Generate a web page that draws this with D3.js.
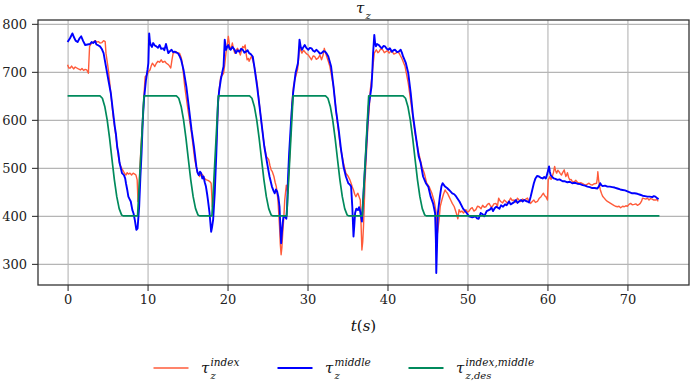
<!DOCTYPE html>
<html>
<head>
<meta charset="utf-8">
<script src="https://cdn.jsdelivr.net/npm/d3@7"></script>
<style>
  html, body { margin: 0; padding: 0; background: #fff; }
  svg { display: block; }
</style>
</head>
<body>
<div id="chart"></div>
<script>
// tick values
const xTicks = [0, 10, 20, 30, 40, 50, 60, 70];
const yTicks = [300, 400, 500, 600, 700, 800];

// tau_z^index  [t, value]
const tauIndex = [[0,715],[0.15,708],[0.33,708],[0.5,712],[0.75,706],[0.95,710],[1.15,708],[1.35,706],[1.6,704],[1.8,707],[2.0,703],[2.2,705],[2.4,704],[2.6,697],[2.75,753],[2.9,757],[3.0,760],[3.2,762],[3.45,765],[3.65,762],[3.85,763],[4.05,760],[4.3,761],[4.5,765],[4.7,763],[4.8,739],[5.1,704],[5.4,656],[5.7,607],[6.05,565],[6.35,524],[6.5,510],[6.65,503],[6.8,498],[7.0,492],[7.15,488],[7.3,485],[7.45,490],[7.6,487],[7.8,489],[8.0,485],[8.2,489],[8.4,487],[8.55,485],[8.7,475],[8.8,430],[8.9,440],[9.05,503],[9.2,550],[9.4,600],[9.55,650],[9.7,690],[9.95,694],[10.1,700],[10.3,704],[10.45,712],[10.6,718],[10.75,715],[10.9,711],[11.1,718],[11.3,722],[11.5,720],[11.7,725],[11.9,720],[12.15,722],[12.35,718],[12.6,715],[12.75,712],[12.9,708],[13.05,725],[13.2,739],[13.4,740],[13.6,742],[13.8,738],[14.0,739],[14.2,730],[14.35,718],[14.65,669],[15.05,621],[15.5,572],[15.9,517],[16.2,492],[16.5,482],[16.7,488],[16.9,485],[17.1,478],[17.35,475],[17.55,474],[17.75,472],[17.95,468],[18.1,419],[18.25,433],[18.4,480],[18.6,544],[18.75,600],[18.9,656],[19.15,690],[19.35,693],[19.5,697],[19.65,715],[19.8,739],[19.95,755],[20.1,774],[20.25,755],[20.35,746],[20.5,752],[20.6,760],[20.75,748],[20.9,739],[21.05,745],[21.25,749],[21.45,742],[21.6,735],[21.75,745],[21.9,753],[22.05,750],[22.2,756],[22.35,735],[22.45,725],[22.6,728],[22.7,722],[22.85,728],[23.0,732],[23.15,725],[23.35,711],[23.7,676],[24.1,614],[24.55,551],[24.85,524],[25.15,517],[25.3,505],[25.45,496],[25.6,492],[25.8,482],[25.95,470],[26.1,461],[26.3,433],[26.5,378],[26.6,340],[26.7,319],[26.8,335],[26.9,364],[27.05,400],[27.15,433],[27.35,464],[27.55,447],[27.65,490],[27.8,531],[28.05,635],[28.25,670],[28.4,683],[28.6,695],[28.75,704],[28.9,730],[29.0,753],[29.15,745],[29.3,739],[29.5,745],[29.65,742],[29.85,738],[30.1,735],[30.3,730],[30.5,725],[30.7,733],[30.9,732],[31.1,726],[31.35,729],[31.55,735],[31.75,725],[31.95,735],[32.1,749],[32.25,740],[32.4,732],[32.6,722],[32.8,711],[33.25,669],[33.7,600],[34.1,544],[34.5,510],[34.8,489],[35.1,482],[35.3,475],[35.45,468],[35.6,460],[35.75,454],[35.9,445],[36.05,440],[36.2,445],[36.3,447],[36.45,440],[36.6,433],[36.7,380],[36.8,329],[36.9,345],[37.0,378],[37.2,475],[37.4,540],[37.55,586],[37.7,620],[37.85,662],[38.05,690],[38.2,715],[38.35,739],[38.6,746],[38.8,740],[38.95,742],[39.15,748],[39.4,746],[39.6,740],[39.8,742],[40.0,744],[40.2,739],[40.4,743],[40.6,742],[40.8,737],[41.05,739],[41.25,741],[41.45,739],[41.6,734],[41.8,728],[42.2,711],[42.6,676],[43.05,621],[43.45,572],[43.9,531],[44.3,503],[44.6,489],[44.9,468],[45.2,461],[45.55,447],[45.85,430],[46.05,410],[46.15,380],[46.25,364],[46.35,378],[46.45,392],[46.6,420],[46.8,433],[47.0,445],[47.2,454],[47.35,450],[47.5,447],[47.7,440],[47.9,433],[48.1,426],[48.35,419],[48.6,406],[48.8,394],[48.95,413],[49.1,408],[49.3,410],[49.5,406],[49.8,413],[50.0,408],[50.2,410],[50.4,415],[50.6,417],[50.8,410],[51.05,413],[51.25,420],[51.45,419],[51.7,415],[51.9,422],[52.1,418],[52.3,419],[52.5,424],[52.7,426],[52.9,420],[53.1,419],[53.3,425],[53.55,426],[53.75,420],[53.9,437],[54.05,432],[54.15,430],[54.4,427],[54.6,433],[54.8,430],[55.0,426],[55.2,431],[55.4,437],[55.6,432],[55.85,433],[56.05,428],[56.25,437],[56.45,433],[56.65,430],[56.9,435],[57.1,433],[57.3,435],[57.5,437],[57.7,430],[57.9,426],[58.1,430],[58.3,433],[58.5,428],[58.75,430],[58.95,436],[59.2,440],[59.35,444],[59.5,447],[59.65,442],[59.8,440],[60.0,433],[60.1,475],[60.2,478],[60.3,482],[60.45,476],[60.6,482],[60.75,490],[60.9,503],[61.0,495],[61.15,489],[61.3,495],[61.45,492],[61.6,488],[61.75,485],[61.9,490],[62.1,496],[62.2,488],[62.3,482],[62.4,485],[62.5,490],[62.65,480],[62.8,475],[62.95,476],[63.1,472],[63.3,470],[63.55,474],[63.75,470],[63.95,468],[64.2,469],[64.4,467],[64.6,465],[64.8,464],[65.0,466],[65.2,468],[65.4,465],[65.6,464],[65.75,466],[65.9,467],[66.15,468],[66.25,480],[66.3,492],[66.4,475],[66.5,464],[66.6,455],[66.75,447],[66.9,441],[67.1,437],[67.3,433],[67.5,430],[67.7,428],[67.9,426],[68.1,424],[68.3,422],[68.5,420],[68.75,419],[68.95,420],[69.15,417],[69.4,420],[69.6,419],[69.8,421],[70.0,420],[70.2,424],[70.4,426],[70.6,423],[70.85,424],[71.05,425],[71.25,422],[71.45,424],[71.6,426],[71.75,430],[71.9,437],[72.1,436],[72.3,435],[72.5,437],[72.7,433],[72.9,436],[73.1,435],[73.3,433],[73.5,433],[73.7,434],[73.85,430]];

// tau_z^middle  [t, value]
const tauMiddle = [[0,762],[0.3,770],[0.6,780],[0.8,772],[1.0,765],[1.25,762],[1.5,770],[1.7,774],[1.95,764],[2.2,756],[2.5,757],[2.8,758],[3.0,762],[3.2,760],[3.45,764],[3.6,757],[3.85,755],[4.05,753],[4.3,747],[4.5,739],[4.65,725],[4.8,711],[5.1,683],[5.4,656],[5.65,621],[5.9,586],[6.05,570],[6.2,544],[6.35,530],[6.5,510],[6.65,500],[6.8,489],[7.05,485],[7.2,478],[7.3,468],[7.45,455],[7.6,440],[7.75,435],[7.9,430],[8.1,412],[8.25,405],[8.4,392],[8.6,371],[8.75,374],[8.95,419],[9.1,480],[9.25,531],[9.4,600],[9.55,642],[9.8,683],[10.0,705],[10.1,718],[10.2,780],[10.3,762],[10.4,756],[10.55,752],[10.7,760],[10.9,755],[11.1,753],[11.3,750],[11.5,756],[11.7,748],[11.95,749],[12.1,745],[12.3,758],[12.45,748],[12.6,739],[12.8,743],[13.0,746],[13.2,741],[13.4,742],[13.6,740],[13.8,739],[14.0,733],[14.2,725],[14.5,704],[14.85,669],[15.2,621],[15.5,579],[15.8,544],[16.1,503],[16.25,490],[16.4,485],[16.55,492],[16.7,489],[16.85,478],[17.0,482],[17.15,470],[17.3,461],[17.45,445],[17.55,433],[17.75,406],[17.95,367],[18.05,375],[18.2,392],[18.4,447],[18.6,531],[18.8,635],[18.95,660],[19.15,683],[19.35,700],[19.5,711],[19.65,767],[19.8,746],[19.95,752],[20.1,756],[20.25,748],[20.4,746],[20.6,752],[20.75,749],[20.9,745],[21.05,739],[21.25,745],[21.5,742],[21.7,748],[21.9,746],[22.1,740],[22.3,742],[22.5,745],[22.7,739],[22.9,737],[23.15,732],[23.35,711],[23.7,669],[24.0,628],[24.3,586],[24.6,544],[24.95,510],[25.25,482],[25.55,461],[25.75,452],[25.9,447],[26.05,455],[26.2,451],[26.35,440],[26.5,419],[26.6,380],[26.7,343],[26.8,365],[26.9,385],[27.0,400],[27.15,399],[27.35,394],[27.45,420],[27.55,475],[27.7,530],[27.9,586],[28.05,625],[28.2,656],[28.5,697],[28.8,718],[28.9,740],[29.0,767],[29.15,752],[29.3,746],[29.5,752],[29.65,756],[29.85,750],[30.1,746],[30.3,750],[30.5,749],[30.7,744],[30.9,742],[31.1,746],[31.35,742],[31.55,738],[31.75,739],[32.0,743],[32.2,742],[32.4,738],[32.6,732],[32.95,711],[33.25,669],[33.55,621],[33.9,579],[34.2,537],[34.5,503],[34.8,482],[35.1,468],[35.3,465],[35.45,461],[35.6,419],[35.75,357],[35.85,380],[35.95,406],[36.1,415],[36.3,412],[36.45,418],[36.6,408],[36.8,388],[37.0,447],[37.3,531],[37.5,590],[37.65,628],[38.0,669],[38.1,700],[38.2,739],[38.35,777],[38.45,760],[38.55,753],[38.7,758],[38.9,756],[39.1,752],[39.3,749],[39.5,754],[39.7,753],[39.9,748],[40.1,746],[40.3,749],[40.55,742],[40.75,745],[40.95,746],[41.2,741],[41.4,742],[41.65,746],[41.8,740],[41.95,732],[42.3,718],[42.6,697],[42.9,656],[43.2,607],[43.55,565],[43.9,524],[44.15,510],[44.45,482],[44.8,468],[45.1,461],[45.4,440],[45.7,426],[45.95,406],[46.05,350],[46.1,281],[46.2,340],[46.3,406],[46.55,440],[46.75,462],[46.9,468],[47.2,461],[47.45,458],[47.7,454],[48.1,447],[48.35,445],[48.6,440],[49.0,430],[49.45,415],[49.9,406],[50.2,399],[50.6,397],[51.0,399],[51.2,395],[51.4,394],[51.65,406],[51.85,404],[52.1,399],[52.4,410],[52.8,413],[53.0,417],[53.2,410],[53.4,416],[53.6,419],[54.0,415],[54.2,422],[54.45,419],[54.7,424],[54.9,422],[55.2,430],[55.4,424],[55.6,426],[55.8,428],[56.05,433],[56.25,427],[56.45,430],[56.7,433],[56.9,430],[57.1,433],[57.3,431],[57.5,430],[57.7,428],[57.9,440],[58.1,454],[58.3,468],[58.5,478],[58.7,483],[58.95,482],[59.2,479],[59.4,478],[59.6,481],[59.8,478],[60.0,489],[60.2,503],[60.3,492],[60.4,485],[60.6,481],[60.8,478],[61.0,477],[61.25,475],[61.5,476],[61.9,472],[62.2,472],[62.5,470],[62.8,471],[63.1,468],[63.4,469],[63.75,467],[64.1,466],[64.4,464],[64.7,463],[65.0,461],[65.3,460],[65.6,458],[65.9,458],[66.25,457],[66.45,462],[66.6,468],[66.75,464],[66.9,462],[67.2,463],[67.5,461],[67.8,461],[68.1,460],[68.4,459],[68.75,457],[69.1,455],[69.4,454],[69.7,453],[70.0,451],[70.3,449],[70.6,447],[70.9,447],[71.25,446],[71.6,444],[71.9,442],[72.2,441],[72.5,440],[72.8,440],[73.1,439],[73.3,441],[73.5,440],[73.7,437],[73.9,435]];

// tau_{z,des}^{index,middle}  [t, value]
const tauDes = [[0,650],[4.05,650],[4.35,645],[4.65,628],[4.95,600],[5.25,562],[5.55,518],[5.85,475],[6.15,440],[6.45,415],[6.75,402],[6.95,400],[8.75,400],[9.15,525],[9.55,650],
  [13.6,650],[13.9,645],[14.2,628],[14.5,600],[14.8,562],[15.1,518],[15.4,475],[15.7,440],[16.0,415],[16.3,402],[16.5,400],[18.05,400],[18.45,525],[18.85,650],
  [22.75,650],[23.05,645],[23.35,628],[23.65,600],[23.95,562],[24.25,518],[24.55,475],[24.85,440],[25.15,415],[25.45,402],[25.65,400],[27.4,400],[27.8,525],[28.2,650],
  [32.25,650],[32.55,645],[32.85,628],[33.15,600],[33.45,562],[33.75,518],[34.05,475],[34.35,440],[34.65,415],[34.95,402],[35.15,400],[36.85,400],[37.25,525],[37.65,650],
  [41.95,650],[42.25,645],[42.55,628],[42.85,600],[43.15,562],[43.45,518],[43.75,475],[44.05,440],[44.35,415],[44.65,402],[44.85,400],[74,400]];

const W = 692, H = 381;
const plot = { left: 38, right: 689, top: 20, bottom: 285 };
const mathFont = "DejaVu Serif, Liberation Serif, serif";

const x = d3.scaleLinear().domain([-3.7, 77.7]).range([plot.left, plot.right]);
const y = d3.scaleLinear().domain([256, 808]).range([plot.bottom, plot.top]);

const series = [
  { id: "index", data: tauIndex, color: "#ff5b3a", width: 1.4, sup: "index", sub: "z" },
  { id: "middle", data: tauMiddle, color: "#0000ff", width: 1.9, sup: "middle", sub: "z" },
  { id: "des", data: tauDes, color: "#008a5c", width: 1.7, sup: "index,middle", sub: "z,des" }
];

const svg = d3.select("#chart").append("svg")
  .attr("width", W)
  .attr("height", H)
  .attr("viewBox", `0 0 ${W} ${H}`)
  .attr("font-family", mathFont);

// gridlines
svg.append("g")
  .attr("class", "x-grid")
  .attr("transform", `translate(0, ${plot.bottom})`)
  .call(d3.axisBottom(x).tickValues(xTicks).tickSize(-(plot.bottom - plot.top)).tickFormat(""))
  .call(g => g.select(".domain").remove())
  .call(g => g.selectAll(".tick line").attr("stroke", "#b5b5b5").attr("stroke-width", 1.1));

svg.append("g")
  .attr("class", "y-grid")
  .attr("transform", `translate(${plot.left}, 0)`)
  .call(d3.axisLeft(y).tickValues(yTicks).tickSize(-(plot.right - plot.left)).tickFormat(""))
  .call(g => g.select(".domain").remove())
  .call(g => g.selectAll(".tick line").attr("stroke", "#b5b5b5").attr("stroke-width", 1.1));

// lines
const line = d3.line()
  .x(d => x(d[0]))
  .y(d => y(d[1]));

svg.append("defs").append("clipPath").attr("id", "plot-clip")
  .append("rect")
  .attr("x", plot.left).attr("y", plot.top)
  .attr("width", plot.right - plot.left).attr("height", plot.bottom - plot.top);

svg.append("g")
  .attr("clip-path", "url(#plot-clip)")
  .selectAll("path")
  .data(series)
  .join("path")
  .attr("fill", "none")
  .attr("stroke", d => d.color)
  .attr("stroke-width", d => d.width)
  .attr("stroke-linejoin", "round")
  .attr("d", d => line(d.data));

// axes
svg.append("g")
  .attr("class", "x-axis")
  .attr("transform", `translate(0, ${plot.bottom})`)
  .call(d3.axisBottom(x).tickValues(xTicks).tickSize(6).tickPadding(4).tickFormat(d3.format("d")))
  .call(g => g.attr("font-family", mathFont).attr("font-size", 13))
  .call(g => g.select(".domain").remove())
  .call(g => g.selectAll(".tick line").attr("stroke", "#333").attr("stroke-width", 1.1))
  .call(g => g.selectAll(".tick text").attr("fill", "#222"));

svg.append("g")
  .attr("class", "y-axis")
  .attr("transform", `translate(${plot.left}, 0)`)
  .call(d3.axisLeft(y).tickValues(yTicks).tickSize(6).tickPadding(5).tickFormat(d3.format("d")))
  .call(g => g.attr("font-family", mathFont).attr("font-size", 13))
  .call(g => g.select(".domain").remove())
  .call(g => g.selectAll(".tick line").attr("stroke", "#333").attr("stroke-width", 1.1))
  .call(g => g.selectAll(".tick text").attr("fill", "#222"));

// frame
svg.append("rect")
  .attr("x", plot.left).attr("y", plot.top)
  .attr("width", plot.right - plot.left).attr("height", plot.bottom - plot.top)
  .attr("fill", "none")
  .attr("stroke", "#333")
  .attr("stroke-width", 1.3);

// tau with sub/superscript
function mathLabel(g, x0, base, sup, sub) {
  g.append("text")
    .attr("x", x0).attr("y", base)
    .attr("fill", "#111")
    .attr("font-style", "italic")
    .attr("font-size", 15)
    .text("τ");
  if (sup) {
    g.append("text")
      .attr("x", x0 + 9.5).attr("y", base - 7.5)
      .attr("fill", "#111")
      .attr("font-style", "italic")
      .attr("font-size", 10.5)
      .text(sup);
  }
  if (sub) {
    g.append("text")
      .attr("x", x0 + 9.5).attr("y", base + 5.5)
      .attr("fill", "#111")
      .attr("font-style", "italic")
      .attr("font-size", 10)
      .text(sub);
  }
}

// title
mathLabel(svg.append("g"), 356, 13, null, "z");

// x label
svg.append("text")
  .attr("x", (plot.left + plot.right) / 2)
  .attr("y", 331)
  .attr("text-anchor", "middle")
  .attr("fill", "#111")
  .attr("font-size", 15)
  .html("<tspan font-style='italic'>t</tspan>(<tspan font-style='italic'>s</tspan>)");

// legend
const legendX = [153.5, 277.5, 408.5];
const legend = svg.append("g").attr("class", "legend");
series.forEach((s, i) => {
  const g = legend.append("g");
  g.append("line")
    .attr("x1", legendX[i]).attr("x2", legendX[i] + 35)
    .attr("y1", 368).attr("y2", 368)
    .attr("stroke", s.color)
    .attr("stroke-width", s.width + 0.3);
  mathLabel(g, legendX[i] + 47.5, 373, s.sup, s.sub);
});
</script>
</body>
</html>
